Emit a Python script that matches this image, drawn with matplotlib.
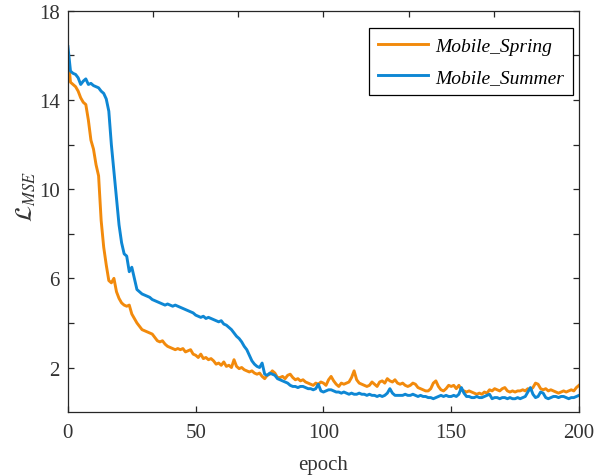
import numpy as np
import matplotlib
matplotlib.use("Agg")
import matplotlib.pyplot as plt

plt.rcParams['font.family'] = ['Liberation Serif', 'DejaVu Serif']
plt.rcParams['mathtext.fontset'] = 'stix'

# loss per epoch
spring = [
    16.0, 14.8, 14.7, 14.6, 14.4, 14.1, 13.9, 13.8, 13.1, 12.2,
    11.8, 11.1, 10.6, 8.6, 7.4, 6.6, 5.9, 5.8, 6.0, 5.4,
    5.1, 4.9, 4.8, 4.75, 4.8, 4.4, 4.2, 4.0, 3.85, 3.7,
    3.65, 3.6, 3.55, 3.5, 3.35, 3.2, 3.15, 3.2, 3.05, 2.95,
    2.9, 2.85, 2.8, 2.85, 2.8, 2.85, 2.7, 2.75, 2.8, 2.6,
    2.55, 2.45, 2.6, 2.4, 2.45, 2.35, 2.4, 2.3, 2.15, 2.2,
    2.1, 2.25, 2.05, 2.1, 2.0, 2.35, 2.05, 1.95, 2.0, 1.9,
    1.85, 1.8, 1.85, 1.75, 1.7, 1.75, 1.6, 1.5, 1.65, 1.7,
    1.85, 1.75, 1.55, 1.55, 1.6, 1.5, 1.65, 1.7, 1.55, 1.45,
    1.5, 1.4, 1.45, 1.35, 1.3, 1.25, 1.2, 1.3, 1.25, 1.35,
    1.3, 1.2, 1.45, 1.6, 1.4, 1.25, 1.15, 1.3, 1.25, 1.3,
    1.35, 1.55, 1.85, 1.45, 1.3, 1.25, 1.2, 1.15, 1.2, 1.35,
    1.25, 1.15, 1.35, 1.4, 1.3, 1.5, 1.4, 1.35, 1.45, 1.3,
    1.25, 1.3, 1.2, 1.15, 1.2, 1.3, 1.25, 1.1, 1.05, 1.0,
    0.95, 0.95, 1.05, 1.3, 1.4, 1.15, 1.0, 0.95, 1.05, 1.2,
    1.15, 1.2, 1.05, 1.2, 1.0, 0.95, 0.9, 0.95, 0.9, 0.85,
    0.8, 0.85, 0.8, 0.9, 0.85, 1.0, 0.95, 1.05, 1.0, 0.95,
    1.05, 1.1, 0.95, 0.9, 0.95, 0.9, 0.95, 0.95, 1.0, 0.95,
    1.05, 1.0, 1.1, 1.3, 1.25, 1.05, 1.0, 1.05, 0.95, 1.0,
    0.95, 0.9, 0.85, 0.9, 0.95, 0.9, 0.95, 1.0, 0.95, 1.1,
    1.2,
]

summer = [
    16.4, 15.3, 15.2, 15.15, 15.0, 14.7, 14.85, 14.95, 14.7, 14.75,
    14.65, 14.6, 14.55, 14.4, 14.3, 14.05, 13.5, 12.0, 10.8, 9.6,
    8.4, 7.6, 7.1, 7.0, 6.3, 6.5, 6.0, 5.5, 5.4, 5.3,
    5.25, 5.2, 5.15, 5.05, 5.0, 4.95, 4.9, 4.85, 4.8, 4.85,
    4.8, 4.75, 4.8, 4.75, 4.7, 4.65, 4.6, 4.55, 4.5, 4.45,
    4.35, 4.3, 4.25, 4.3, 4.2, 4.25, 4.2, 4.15, 4.1, 4.05,
    4.1, 3.95, 3.9, 3.8, 3.7, 3.55, 3.4, 3.3, 3.15, 2.95,
    2.8, 2.55, 2.3, 2.15, 2.05, 2.0, 2.2, 1.7, 1.65, 1.75,
    1.7, 1.65, 1.5, 1.45, 1.4, 1.35, 1.3, 1.2, 1.15, 1.15,
    1.1, 1.15, 1.15, 1.1, 1.05, 1.05, 1.0, 1.05, 1.25, 0.95,
    0.9, 0.95, 1.0, 1.0, 0.95, 0.9, 0.9, 0.85, 0.9, 0.85,
    0.8, 0.85, 0.8, 0.8, 0.85, 0.8, 0.8, 0.75, 0.8, 0.75,
    0.75, 0.7, 0.75, 0.7, 0.75, 0.85, 1.05, 0.85, 0.75, 0.75,
    0.75, 0.75, 0.8, 0.75, 0.75, 0.8, 0.75, 0.7, 0.75, 0.7,
    0.7, 0.65, 0.65, 0.6, 0.65, 0.7, 0.75, 0.7, 0.75, 0.7,
    0.7, 0.75, 0.7, 0.8, 1.1, 0.85, 0.7, 0.7, 0.65, 0.65,
    0.7, 0.65, 0.65, 0.7, 0.75, 0.8, 0.6, 0.65, 0.65, 0.6,
    0.65, 0.65, 0.6, 0.65, 0.6, 0.6, 0.65, 0.6, 0.65, 0.7,
    0.9, 1.1, 0.8, 0.65, 0.7, 0.9, 0.85, 0.65, 0.6, 0.65,
    0.7, 0.7, 0.65, 0.7, 0.7, 0.65, 0.6, 0.65, 0.65, 0.7,
    0.75,
]

epochs = np.arange(len(spring))
labels = ['Mobile_Spring', 'Mobile_Summer']
colors = ['#F28A0C', '#0E87D4']

fig = plt.figure(figsize=(6.12, 4.77), dpi=100)
ax = fig.add_axes([0.111, 0.134, 0.835, 0.841])

ax.plot(epochs, spring, color=colors[0], lw=2.1, label=labels[0])
ax.plot(epochs, summer, color=colors[1], lw=2.1, label=labels[1])

ax.set_xlim(0, 200)
ax.set_ylim(0, 18)
ax.set_xticks([0, 50, 100, 150, 200])
ax.set_yticks(np.arange(2, 19, 2))
ax.set_yticklabels(['2', '', '6', '', '10', '', '14', '', '18'])

for s in ax.spines.values():
    s.set_linewidth(0.9)
    s.set_color('#262626')
ax.tick_params(direction='in', length=4, width=0.9, color='#262626',
               labelsize=15, labelcolor='#333333', right=True, top=False)
ax.tick_params(axis='x', pad=8)
ax.tick_params(axis='y', pad=6)

# top edge ticks in the reference do not line up with the bottom ones
top = ax.twiny()
top.set_xlim(0, 6)
top.set_xticks([1, 2, 3, 4, 5])
top.tick_params(direction='in', length=4, width=0.9, color='#262626', labeltop=False)
for s in top.spines.values():
    s.set_visible(False)

ax.set_xlabel('epoch', fontsize=15, color='#333333', labelpad=9)
ax.set_ylabel(r'$\mathcal{L}_{MSE}$', fontsize=17, color='#333333')
ax.yaxis.set_label_coords(-0.058, 0.54)

leg = ax.legend(loc='upper right', bbox_to_anchor=(0.988, 0.957), fancybox=False,
                framealpha=1, edgecolor='black', prop={'style': 'italic', 'size': 14},
                handlelength=2.6, handletextpad=0.35, borderpad=0.45,
                labelspacing=0.7, borderaxespad=0)
leg.get_frame().set_linewidth(0.9)

fig.savefig('out.png', dpi=100)
